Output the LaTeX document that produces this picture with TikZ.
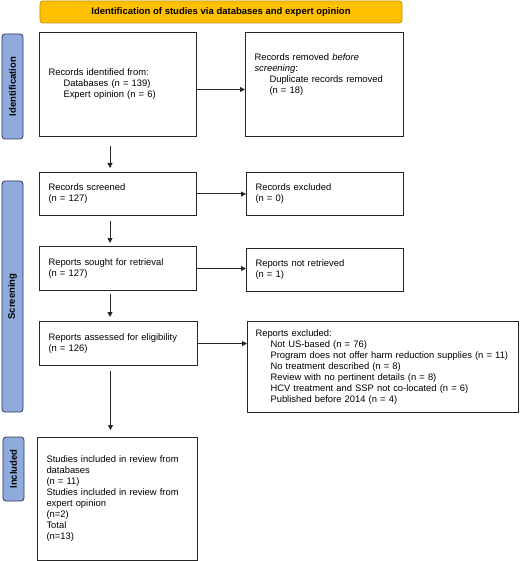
\documentclass[tikz,border=0pt]{standalone}
\usepackage{fontspec}
\setmainfont{Liberation Sans}
\usepackage{tikz}
\usetikzlibrary{arrows.meta}
\definecolor{headfill}{HTML}{FFC000}
\definecolor{headline}{HTML}{C49300}
\definecolor{sidefill}{HTML}{8FAADC}
\definecolor{sideline}{HTML}{2E3B55}

\begin{document}
\begin{tikzpicture}[x=1bp,y=-1bp]
    \tikzstyle{dedge} = [line width=1bp,->,>={Triangle[length=5bp,width=5bp]},draw=black!85]
    \tikzstyle{box}=[
      draw=black!85,
      line width=1bp,
      anchor=north west,
      align=left,
      inner xsep=9bp,
      inner ysep=2bp,
      font=\fontsize{9.4bp}{11bp}\selectfont,
    ]
    \tikzstyle{head}=[
      fill=headfill,
      draw=headline,
      rounded corners=3bp,
      line width=0.8bp,
      font=\fontsize{9.5bp}{11bp}\selectfont\bfseries,
    ]
    \tikzstyle{side}=[
      head,
      fill=sidefill,
      draw=sideline,
      rotate=90,
      minimum height=21bp,
      inner sep=0pt,
    ]
    \newcommand{\ind}{\hspace*{15bp}}

    \useasboundingbox (0,0) rectangle (520,561);

    {
      \node[head, minimum width=362bp, minimum height=22bp] (title) at (221,12)
        {Identification of studies via databases and expert opinion};

      \node[side, minimum width=105bp] (sident) at (12.5,86.5) {Identification};
      \node[side, minimum width=231bp] (sscreen) at (12.5,296.5) {Screening};
      \node[side, minimum width=64bp] (sincl) at (13.5,469) {Included};
    }

    {
      \node[box, text width=139bp, minimum height=104bp] (rec) at (39,32)
        {Records identified from:\\ \ind Databases (n = 139)\\ \ind Expert opinion (n = 6)};
      \node[box, text width=140bp, minimum height=104bp] (dup) at (245,32)
        {Records removed \textit{before}\\ \textit{screening}:\\ \ind Duplicate records removed\\ \ind (n = 18)\\ \mbox{}\\ \mbox{}};

      \node[box, text width=139bp, minimum height=43bp] (scr) at (39,172)
        {Records screened\\ (n = 127)};
      \node[box, text width=139bp, minimum height=43bp] (exc) at (246,172)
        {Records excluded\\ (n = 0)};

      \node[box, text width=139bp, minimum height=44bp] (sou) at (39,246)
        {Reports sought for retrieval\\ (n = 127)};
      \node[box, text width=139bp, minimum height=43bp] (nre) at (246,248)
        {Reports not retrieved\\ (n = 1)};

      \node[box, text width=140bp, minimum height=44bp] (ass) at (39,321)
        {Reports assessed for eligibility\\ (n = 126)};
      \node[box, text width=255bp, minimum height=91bp, inner xsep=8bp] (rex) at (247,321)
        {Reports excluded:\\ \ind Not US-based (n = 76)\\
         \ind Program does not offer harm reduction supplies (n = 11)\\
         \ind No treatment described (n = 8)\\
         \ind Review with no pertinent details (n = 8)\\
         \ind HCV treatment and SSP not co-located (n = 6)\\
         \ind Published before 2014 (n = 4)};

      \node[box, text width=142bp, minimum height=123bp] (inc) at (37,437)
        {Studies included in review from\\ databases\\ (n = 11)\\
         Studies included in review from\\ expert opinion\\ (n=2)\\ Total\\ (n=13)};
    }

    {
      \draw[dedge] ([yshift=-5bp]rec.east) -- ([yshift=-5bp]dup.west);
      \draw[dedge] (scr.east) -- (scr.east -| exc.west);
      \draw[dedge] (sou.east) -- (sou.east -| nre.west);
      \draw[dedge] (ass.east) -- (ass.east -| rex.west);

      \draw[dedge, shorten <=9bp, shorten >=4bp] ([xshift=-8bp]rec.south) -- ([xshift=-8bp]rec.south |- scr.north);
      \draw[dedge, shorten <=5bp, shorten >=3bp] ([xshift=-8bp]scr.south) -- ([xshift=-8bp]scr.south |- sou.north);
      \draw[dedge, shorten <=3bp, shorten >=4bp] ([xshift=-8bp]sou.south) -- ([xshift=-8bp]sou.south |- ass.north);
      \draw[dedge, shorten <=5bp, shorten >=7bp] ([xshift=-8bp]ass.south) -- ([xshift=-8bp]ass.south |- inc.north);
    }
\end{tikzpicture}
\end{document}
